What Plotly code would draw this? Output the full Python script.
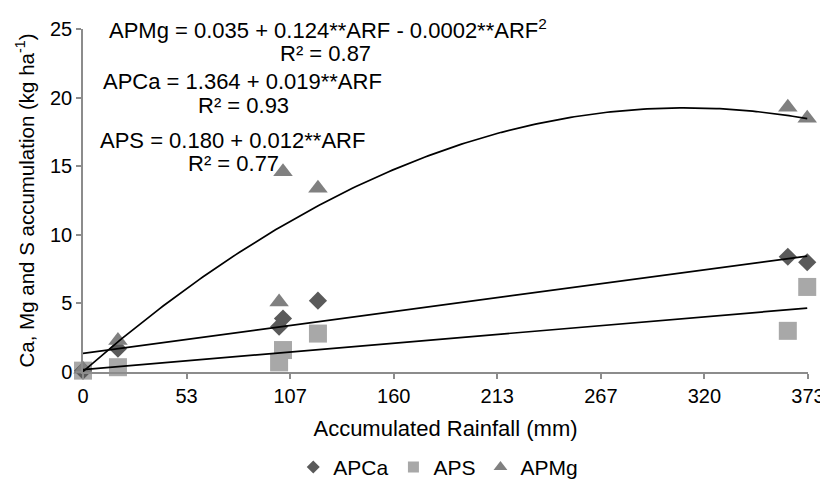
import numpy as np
import plotly.graph_objects as go

# Data
rain = [0, 18, 101, 103, 121, 363, 373]          # accumulated rainfall (mm)
apca = [0.1, 1.7, 3.3, 3.9, 5.2, 8.4, 8.0]        # Ca accumulation
aps = [0.1, 0.35, 0.7, 1.6, 2.8, 3.0, 6.2]        # S accumulation
apmg = [0.2, 2.3, 5.1, 14.6, 13.4, 19.3, 18.5]    # Mg accumulation

x_ticklabels = ["0", "53", "107", "160", "213", "267", "320", "373"]
x_max = 373.4
y_ticks = [0, 5, 10, 15, 20, 25]

# Regression coefficients (from the chart equations)
ca_coef = (1.364, 0.019)
s_coef = (0.180, 0.012)
mg_coef = (0.035, 0.124, -0.0002)

FONT = "Liberation Sans, Arial, sans-serif"
C_CA = "#5a5a5a"
C_S = "#a8a8a8"
C_MG = "#808080"

xf = np.linspace(0, 373, 200)
fig = go.Figure()

# data markers
fig.add_trace(go.Scatter(x=rain, y=aps, mode="markers", name="APS",
                         marker=dict(symbol="square", size=18, color=C_S),
                         cliponaxis=False, showlegend=False))
fig.add_trace(go.Scatter(x=rain, y=apca, mode="markers", name="APCa",
                         marker=dict(symbol="diamond", size=14, color=C_CA),
                         cliponaxis=False, showlegend=False))
fig.add_trace(go.Scatter(x=rain, y=apmg, mode="markers", name="APMg",
                         marker=dict(symbol="triangle-up", size=17, color=C_MG),
                         cliponaxis=False, showlegend=False))

# trend lines
line_style = dict(color="black", width=1.7)
fig.add_trace(go.Scatter(x=xf, y=mg_coef[0] + mg_coef[1] * xf + mg_coef[2] * xf**2,
                         mode="lines", line=line_style, showlegend=False, hoverinfo="skip"))
fig.add_trace(go.Scatter(x=xf, y=ca_coef[0] + ca_coef[1] * xf,
                         mode="lines", line=line_style, showlegend=False, hoverinfo="skip"))
fig.add_trace(go.Scatter(x=xf, y=s_coef[0] + s_coef[1] * xf,
                         mode="lines", line=line_style, showlegend=False, hoverinfo="skip"))

# legend entries
fig.add_trace(go.Scatter(x=[None], y=[None], mode="markers", name="APCa",
                         marker=dict(symbol="diamond", size=10, color=C_CA)))
fig.add_trace(go.Scatter(x=[None], y=[None], mode="markers", name="APS",
                         marker=dict(symbol="square", size=11, color=C_S)))
fig.add_trace(go.Scatter(x=[None], y=[None], mode="markers", name="APMg",
                         marker=dict(symbol="triangle-up", size=12, color=C_MG)))

ann_font = dict(family=FONT, size=22, color="black")
annotations = [
    dict(x=12.6, y=24.99, text="APMg = 0.035 + 0.124**ARF - 0.0002**ARF<sup>2</sup>", xanchor="left"),
    dict(x=125, y=23.2, text="R² = 0.87", xanchor="center"),
    dict(x=82.2, y=21.15, text="APCa = 1.364 + 0.019**ARF", xanchor="center"),
    dict(x=82.7, y=19.4, text="R² = 0.93", xanchor="center"),
    dict(x=76.8, y=16.9, text="APS = 0.180 + 0.012**ARF", xanchor="center"),
    dict(x=77.6, y=15.2, text="R² = 0.77", xanchor="center"),
]
for a in annotations:
    a.update(xref="x", yref="y", showarrow=False, font=ann_font, yanchor="middle")

axis_col = "#8c8c8c"
fig.update_layout(
    width=828, height=500,
    margin=dict(l=74.5, r=28, t=21, b=136, autoexpand=False),
    paper_bgcolor="white", plot_bgcolor="white",
    font=dict(family=FONT, size=20, color="black"),
    annotations=annotations,
    showlegend=True,
    legend=dict(orientation="h", x=0.49, xanchor="center", y=-0.278, yanchor="middle",
                font=dict(family=FONT, size=21, color="black"), itemwidth=30),
    xaxis=dict(range=[0, x_max], tickvals=[i * x_max / 7 for i in range(8)],
               ticktext=x_ticklabels, showgrid=False, zeroline=False, automargin=False,
               showline=True, linecolor=axis_col, linewidth=1.5,
               ticks="outside", ticklen=5, tickcolor=axis_col, tickwidth=1.5,
               title=dict(text="Accumulated Rainfall (mm)", font=dict(size=22)),
               tickfont=dict(size=20)),
    yaxis=dict(range=[0, 25], tickvals=y_ticks, showgrid=False, zeroline=False, automargin=False,
               showline=True, linecolor=axis_col, linewidth=1.5,
               ticks="outside", ticklen=5, tickcolor=axis_col, tickwidth=1.5,
               title=dict(text="Ca, Mg and S accumulation (kg ha<sup>-1</sup>)", font=dict(size=20.5),
                          standoff=10),
               tickfont=dict(size=20)),
)

fig.write_html("out.html")
